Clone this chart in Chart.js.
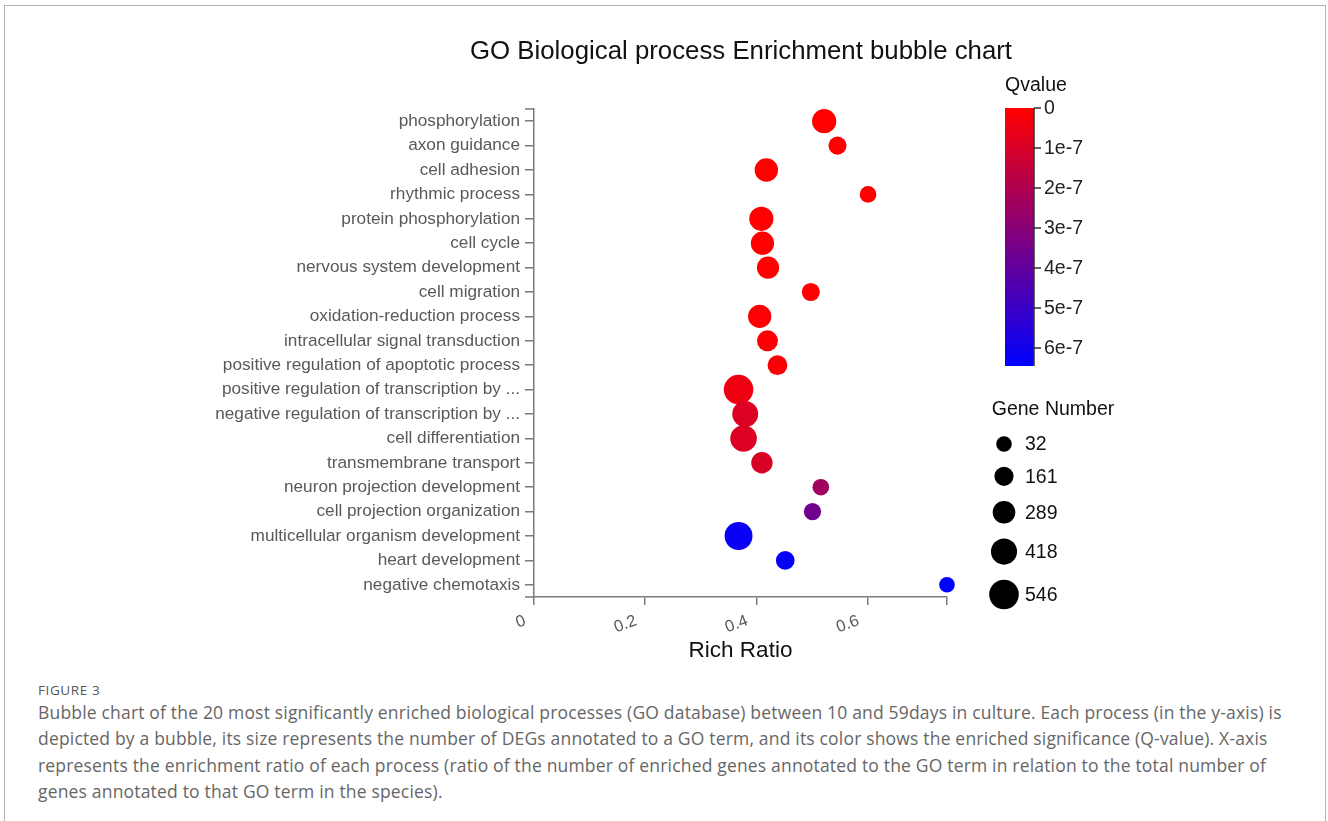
<!DOCTYPE html>
<html>
<head>
<meta charset="utf-8">
<script src="https://cdn.jsdelivr.net/npm/chart.js@4.4.1/dist/chart.umd.min.js"></script>
<style>
  html, body { margin: 0; padding: 0; background: #fff; overflow: hidden; }
  body { width: 1328px; height: 821px; position: relative; }
  #frame { position: absolute; left: 4px; top: 5px; width: 1320px; height: 900px; border: 1px solid #b4b4b4; border-bottom: none; }
  #wrap { position: absolute; left: 0; top: 0; width: 1328px; height: 680px; }
  #caption { position: absolute; left: 38px; top: 681px; color: #666; font-family: "Open Sans", "Noto Sans", sans-serif; }
  #caption .fig { font-size: 13.5px; letter-spacing: 0.6px; line-height: 18px; color: #555; }
  #caption .txt { font-size: 17.5px; letter-spacing: 0.18px; line-height: 26.4px; white-space: nowrap; }
</style>
</head>
<body>
<div id="frame"></div>
<div id="wrap"><canvas id="bubble"></canvas></div>
<div id="caption">
  <div class="fig">FIGURE 3</div>
  <div class="txt">Bubble chart of the 20 most significantly enriched biological processes (GO database) between 10 and 59days in culture. Each process (in the y-axis) is</div>
  <div class="txt">depicted by a bubble, its size represents the number of DEGs annotated to a GO term, and its color shows the enriched significance (Q-value). X-axis</div>
  <div class="txt">represents the enrichment ratio of each process (ratio of the number of enriched genes annotated to the GO term in relation to the total number of</div>
  <div class="txt">genes annotated to that GO term in the species).</div>
</div>
<script>
// Data
const terms = [
  "phosphorylation", "axon guidance", "cell adhesion", "rhythmic process",
  "protein phosphorylation", "cell cycle", "nervous system development", "cell migration",
  "oxidation-reduction process", "intracellular signal transduction",
  "positive regulation of apoptotic process", "positive regulation of transcription by ...",
  "negative regulation of transcription by ...", "cell differentiation", "transmembrane transport",
  "neuron projection development", "cell projection organization",
  "multicellular organism development", "heart development", "negative chemotaxis"
];
const richRatio = [0.522, 0.546, 0.418, 0.601, 0.409, 0.411, 0.421, 0.498, 0.406, 0.420,
                   0.438, 0.368, 0.380, 0.377, 0.410, 0.516, 0.501, 0.368, 0.452, 0.743];
const geneNumber = [349, 123, 319, 70, 349, 312, 274, 123, 312, 228,
                    183, 546, 410, 433, 244, 70, 92, 485, 145, 32];
const qValue = [0, 0, 1e-9, 0, 2e-9, 1e-9, 5e-9, 3e-9, 8e-9, 1.2e-8,
                1.5e-8, 4.3e-8, 8.8e-8, 8.8e-8, 9.7e-8, 2.4e-7, 3.6e-7, 6.2e-7, 6.3e-7, 6.45e-7];
const xTicks = [0, 0.2, 0.4, 0.6];
const qTicks = [0, 1e-7, 2e-7, 3e-7, 4e-7, 5e-7, 6e-7];
const qTickLabels = ["0", "1e-7", "2e-7", "3e-7", "4e-7", "5e-7", "6e-7"];
const geneLegend = [32, 161, 289, 418, 546];

// Style
const FONT = "'Liberation Sans', Arial, sans-serif";
const AXIS = "#7a7a7a";
const LABEL = "#595959";
const TICK = 9;
const R_MIN = 7.8, R_MAX = 14.8;
const G_MIN = Math.min(...geneNumber), G_MAX = Math.max(...geneNumber);
const Q_MAX = Math.max(...qValue);
const X_MAX = Math.max(...richRatio);

const radiusFor = (n) => R_MIN + (R_MAX - R_MIN) * (n - G_MIN) / (G_MAX - G_MIN);
const colorFor = (q) => {
  const t = Math.min(1, Math.max(0, q / Q_MAX));
  return `rgb(${Math.round(255 * (1 - t))},0,${Math.round(255 * t)})`;
};

const points = terms.map((_, i) => ({ x: richRatio[i], y: i, r: radiusFor(geneNumber[i]) }));

// Title, axis caps, colour bar and size legend
const extras = {
  id: "extras",
  afterDraw(chart) {
    const { ctx, chartArea } = chart;
    const { top, bottom, left } = chartArea;
    ctx.save();
    ctx.fillStyle = "#111";
    ctx.font = `25.8px ${FONT}`;
    ctx.textAlign = "center";
    ctx.textBaseline = "middle";
    ctx.fillText("GO Biological process Enrichment bubble chart", 741, 52);

    ctx.strokeStyle = AXIS;
    ctx.lineWidth = 1.5;
    ctx.beginPath();
    ctx.moveTo(left - TICK, top); ctx.lineTo(left, top);
    ctx.moveTo(left - TICK, bottom); ctx.lineTo(left, bottom);
    ctx.stroke();

    // colour bar
    const bx = 1005, bw = 29, by = 108, pxPerQ = 40 / 1e-7;
    const bh = Q_MAX * pxPerQ;
    const grad = ctx.createLinearGradient(0, by, 0, by + bh);
    grad.addColorStop(0, colorFor(0));
    grad.addColorStop(1, colorFor(Q_MAX));
    ctx.fillStyle = grad;
    ctx.fillRect(bx, by, bw, bh);
    ctx.strokeStyle = "#333";
    ctx.lineWidth = 1.5;
    ctx.beginPath();
    ctx.moveTo(bx + bw, by); ctx.lineTo(bx + bw, by + bh);
    qTicks.forEach((q) => {
      const y = by + q * pxPerQ;
      ctx.moveTo(bx + bw, y); ctx.lineTo(bx + bw + 7, y);
    });
    ctx.stroke();
    ctx.fillStyle = "#222";
    ctx.font = `19.5px ${FONT}`;
    ctx.textAlign = "left";
    qTicks.forEach((q, i) => ctx.fillText(qTickLabels[i], bx + bw + 10, by + q * pxPerQ + 1));
    ctx.textAlign = "center";
    ctx.fillStyle = "#111";
    ctx.font = `19.5px ${FONT}`;
    ctx.fillText("Qvalue", 1036, 86);

    // gene number legend
    ctx.fillText("Gene Number", 1053, 410);
    let cy = 444;
    ctx.textAlign = "left";
    geneLegend.forEach((n, i) => {
      const r = radiusFor(n);
      if (i > 0) cy += radiusFor(geneLegend[i - 1]) + r + 15;
      ctx.fillStyle = "#000";
      ctx.beginPath();
      ctx.arc(1004, cy, r, 0, Math.PI * 2);
      ctx.fill();
      ctx.fillStyle = "#111";
      ctx.fillText(String(n), 1025, cy + 1);
    });
    ctx.restore();
  }
};

new Chart(document.getElementById("bubble"), {
  type: "bubble",
  data: {
    datasets: [{
      data: points,
      backgroundColor: qValue.map(colorFor),
      borderWidth: 0,
      hoverBorderWidth: 0,
      clip: false
    }]
  },
  options: {
    responsive: true,
    maintainAspectRatio: false,
    animation: false,
    layout: { padding: { left: 0, right: 1328 - 947, top: 109, bottom: 0 } },
    plugins: {
      legend: { display: false },
      tooltip: { enabled: false },
      title: { display: false }
    },
    scales: {
      x: {
        type: "linear",
        min: 0,
        max: X_MAX,
        afterBuildTicks: (scale) => { scale.ticks = xTicks.concat([X_MAX]).map((v) => ({ value: v })); },
        afterFit: (scale) => { scale.height = 680 - 597; },
        ticks: {
          color: LABEL,
          font: { family: FONT, size: 16.5 },
          minRotation: 20,
          maxRotation: 20,
          padding: 6,
          labelOffset: -9,
          callback: (v) => (xTicks.includes(v) ? String(v) : "")
        },
        grid: { drawOnChartArea: false, drawTicks: true, tickLength: 8, color: AXIS, lineWidth: 1.5 },
        border: { color: AXIS, width: 1.5 },
        title: {
          display: true,
          text: "Rich Ratio",
          color: "#111",
          font: { family: FONT, size: 22.5 },
          padding: { top: 0, bottom: 15.5 }
        }
      },
      y: {
        type: "category",
        labels: terms,
        offset: true,
        afterFit: (scale) => { scale.width = 534; },
        ticks: {
          color: LABEL,
          font: { family: FONT, size: 17.2 },
          padding: 5,
          autoSkip: false
        },
        grid: { drawOnChartArea: false, drawTicks: true, tickLength: TICK, color: AXIS, lineWidth: 1.5, offset: false },
        border: { color: AXIS, width: 1.5 }
      }
    }
  },
  plugins: [extras]
});
</script>
</body>
</html>
